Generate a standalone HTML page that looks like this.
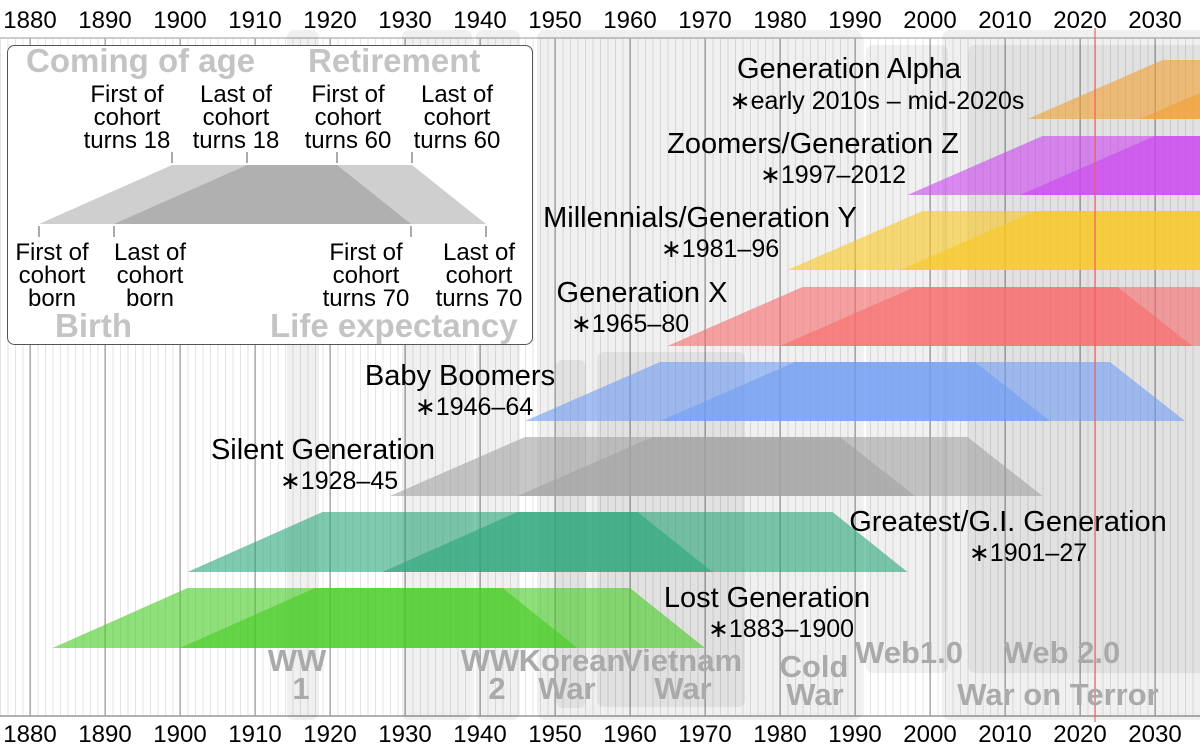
<!DOCTYPE html>
<html><head><meta charset="utf-8"><style>
html,body{margin:0;padding:0;background:#fff}
svg{display:block}
text{font-family:"Liberation Sans",sans-serif}
.ax{font-size:24px;fill:#000;text-anchor:middle}
.ev{font-size:31px;font-weight:bold;fill:#aaa;text-anchor:middle}
.gn{font-size:29px;fill:#000;text-anchor:middle}
.gd{font-size:25px;fill:#000;text-anchor:middle}
.lg{font-size:24px;fill:#000;text-anchor:middle}
.lb{font-size:33px;font-weight:bold;fill:#c4c4c4}
</style></head><body>
<svg width="1200" height="750" viewBox="0 0 1200 750" xmlns="http://www.w3.org/2000/svg">
<defs>
<pattern id="mn" x="30" y="0" width="7.5" height="10" patternUnits="userSpaceOnUse"><rect x="0" y="0" width="1" height="10" fill="#e4e4e4"/></pattern>
<pattern id="mj" x="29.5" y="0" width="75" height="10" patternUnits="userSpaceOnUse"><rect x="0" y="0" width="1.2" height="10" fill="#9a9a9a"/></pattern>
</defs>
<rect x="0" y="38" width="1200" height="678" fill="url(#mn)"/>
<rect x="0" y="38" width="1200" height="678" fill="url(#mj)"/>
<line x1="0" y1="38" x2="1200" y2="38" stroke="#bbb" stroke-width="1.5"/>
<line x1="0" y1="716" x2="1200" y2="716" stroke="#999" stroke-width="1.5"/>

<g fill="#000" fill-opacity="0.06">
<rect x="287" y="30" width="32" height="690" rx="7"/>
<rect x="402" y="30" width="70" height="690" rx="7"/>
<rect x="476" y="30" width="44" height="690" rx="7"/>
<rect x="537" y="30" width="325" height="690" rx="8"/>
<rect x="556" y="360" width="30" height="348" rx="7"/>
<rect x="597" y="352" width="148" height="355" rx="7"/>
<rect x="866" y="45" width="82" height="628" rx="7"/>
<rect x="942" y="30" width="270" height="690" rx="8"/>
<rect x="968" y="45" width="240" height="628" rx="7"/>
</g>

<g fill="#f3a030" fill-opacity="0.6">
<polygon points="1027.5,119 1162.5,60 1200,60 1200,119"/>
<polygon points="1140,119 1275,60 1275,119"/>
</g>
<g fill="#cc44f0" fill-opacity="0.6">
<polygon points="907.5,195 1042.5,136 1200,136 1200,195"/>
<polygon points="1020,195 1155,136 1200,136 1200,195"/>
</g>
<g fill="#f8c820" fill-opacity="0.6">
<polygon points="787.5,270 922.5,211 1200,211 1200,270"/>
<polygon points="900,270 1035,211 1200,211 1200,270"/>
</g>
<g fill="#f86a6a" fill-opacity="0.6">
<polygon points="667.5,346 802.5,287 1117.5,287 1192.5,346"/>
<polygon points="780,346 915,287 1200,287 1200,346"/>
</g>
<g fill="#6f9cf5" fill-opacity="0.6">
<polygon points="525,421 660,362 975,362 1050,421"/>
<polygon points="660,421 795,362 1110,362 1185,421"/>
</g>
<g fill="#a2a2a2" fill-opacity="0.6">
<polygon points="390,496 525,437 840,437 915,496"/>
<polygon points="517.5,496 652.5,437 967.5,437 1042.5,496"/>
</g>
<g fill="#2aa57a" fill-opacity="0.6">
<polygon points="187.5,572 322.5,512 637.5,512 712.5,572"/>
<polygon points="382.5,572 517.5,512 832.5,512 907.5,572"/>
</g>
<g fill="#44cc22" fill-opacity="0.6">
<polygon points="52.5,648 187.5,588 502.5,588 577.5,648"/>
<polygon points="180,648 315,588 630,588 705,648"/>
</g>

<line x1="1095" y1="28" x2="1095" y2="722" stroke="#f06060" stroke-width="1.5" stroke-opacity="0.8"/>

<text class="ev" x="297" y="671">WW</text><text class="ev" x="301" y="699">1</text>
<text class="ev" x="490" y="671">WW</text><text class="ev" x="497" y="699">2</text>
<text class="ev" x="572" y="671">Korean</text><text class="ev" x="567" y="699">War</text>
<text class="ev" x="682" y="671">Vietnam</text><text class="ev" x="683" y="699">War</text>
<text class="ev" x="814" y="677">Cold</text><text class="ev" x="815" y="705">War</text>
<text class="ev" x="909" y="663">Web1.0</text>
<text class="ev" x="1062" y="663">Web 2.0</text>
<text class="ev" x="1058" y="705">War on Terror</text>

<text class="gn" x="849" y="78">Generation Alpha</text>
<text class="gd" x="877" y="109">∗early 2010s – mid-2020s</text>
<text class="gn" x="813" y="153">Zoomers/Generation Z</text>
<text class="gd" x="833" y="183">∗1997–2012</text>
<text class="gn" x="700" y="227">Millennials/Generation Y</text>
<text class="gd" x="720" y="257">∗1981–96</text>
<text class="gn" x="642" y="302">Generation X</text>
<text class="gd" x="630" y="332">∗1965–80</text>
<text class="gn" x="460" y="385">Baby Boomers</text>
<text class="gd" x="474" y="415">∗1946–64</text>
<text class="gn" x="323" y="459">Silent Generation</text>
<text class="gd" x="339" y="489">∗1928–45</text>
<text class="gn" x="1008" y="531">Greatest/G.I. Generation</text>
<text class="gd" x="1028" y="561">∗1901–27</text>
<text class="gn" x="767" y="607">Lost Generation</text>
<text class="gd" x="781" y="637">∗1883–1900</text>

<rect x="7.5" y="45.5" width="525" height="299" rx="7" fill="#fff" stroke="#555" stroke-width="1"/>
<text class="lb" x="26" y="72">Coming of age</text>
<text class="lb" x="308" y="72">Retirement</text>
<text class="lb" x="55" y="337">Birth</text>
<text class="lb" x="270" y="337">Life expectancy</text>
<g class="lg">
<text x="127" y="102">First of</text><text x="127" y="125">cohort</text><text x="127" y="148">turns 18</text>
<text x="236" y="102">Last of</text><text x="236" y="125">cohort</text><text x="236" y="148">turns 18</text>
<text x="348" y="102">First of</text><text x="348" y="125">cohort</text><text x="348" y="148">turns 60</text>
<text x="457" y="102">Last of</text><text x="457" y="125">cohort</text><text x="457" y="148">turns 60</text>
<text x="52" y="260">First of</text><text x="52" y="283">cohort</text><text x="52" y="306">born</text>
<text x="150" y="260">Last of</text><text x="150" y="283">cohort</text><text x="150" y="306">born</text>
<text x="366" y="260">First of</text><text x="366" y="283">cohort</text><text x="366" y="306">turns 70</text>
<text x="479" y="260">Last of</text><text x="479" y="283">cohort</text><text x="479" y="306">turns 70</text>
</g>
<polygon points="39,224 172,165 412,165 486,224" fill="#cfcfcf"/>
<polygon points="114,224 247,165 337,165 411,224" fill="#b0b0b0"/>
<g stroke="#555" stroke-width="1">
<line x1="172" y1="152" x2="172" y2="163"/><line x1="247" y1="152" x2="247" y2="163"/>
<line x1="337" y1="152" x2="337" y2="163"/><line x1="412" y1="152" x2="412" y2="163"/>
<line x1="39" y1="226" x2="39" y2="237"/><line x1="114" y1="226" x2="114" y2="237"/>
<line x1="411" y1="226" x2="411" y2="237"/><line x1="486" y1="226" x2="486" y2="237"/>
</g>

<g class="ax">
<text x="30" y="28">1880</text><text x="105" y="28">1890</text><text x="180" y="28">1900</text><text x="255" y="28">1910</text>
<text x="330" y="28">1920</text><text x="405" y="28">1930</text><text x="480" y="28">1940</text><text x="555" y="28">1950</text>
<text x="630" y="28">1960</text><text x="705" y="28">1970</text><text x="780" y="28">1980</text><text x="855" y="28">1990</text>
<text x="930" y="28">2000</text><text x="1005" y="28">2010</text><text x="1080" y="28">2020</text><text x="1155" y="28">2030</text>
<text x="30" y="742">1880</text><text x="105" y="742">1890</text><text x="180" y="742">1900</text><text x="255" y="742">1910</text>
<text x="330" y="742">1920</text><text x="405" y="742">1930</text><text x="480" y="742">1940</text><text x="555" y="742">1950</text>
<text x="630" y="742">1960</text><text x="705" y="742">1970</text><text x="780" y="742">1980</text><text x="855" y="742">1990</text>
<text x="930" y="742">2000</text><text x="1005" y="742">2010</text><text x="1080" y="742">2020</text><text x="1155" y="742">2030</text>
</g>
</svg>
</body></html>
